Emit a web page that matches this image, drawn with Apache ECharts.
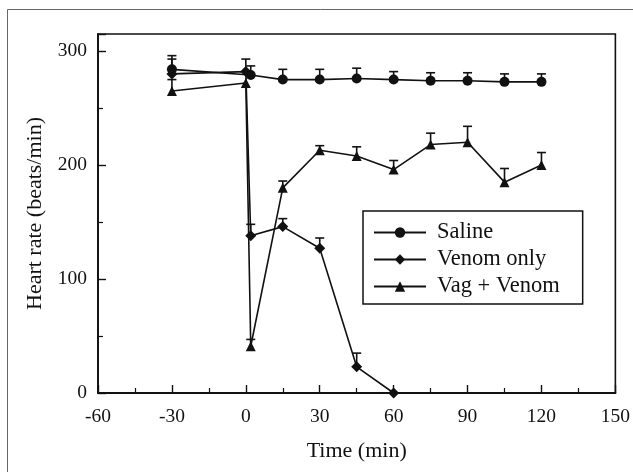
<!DOCTYPE html>
<html>
<head>
<meta charset="utf-8">
<script src="https://cdn.jsdelivr.net/npm/echarts@6/dist/echarts.min.js"></script>
<style>
  html, body { margin: 0; padding: 0; background: #fff; }
  #chart { width: 633px; height: 472px; }
</style>
</head>
<body>
<div id="chart"></div>
<script>
// x ticks (min) and y ticks (beats/min)
const xTicks = [-60, -30, 0, 30, 60, 90, 120, 150];
const yTicks = [0, 100, 200, 300];

// Saline
const salineX = [-30, 2, 15, 30, 45, 60, 75, 90, 105, 120];
const salineY = [284, 279, 275, 275, 276, 275, 274, 274, 273, 273];
const salineErr = [12, 8, 9, 9, 9, 7, 7, 7, 7, 7];

// Venom only
const venomX = [-30, 0, 2, 15, 30, 45, 60];
const venomY = [280, 282, 138, 146, 127, 23, 0];
const venomErr = [13, 11, 10, 7, 9, 12, 0];

// Vag + Venom
const vagX = [-30, 0, 2, 15, 30, 45, 60, 75, 90, 105, 120];
const vagY = [265, 272, 41, 180, 213, 208, 196, 218, 220, 185, 200];
const vagErr = [10, 0, 6, 6, 4, 8, 8, 10, 14, 12, 11];

const FONT = '"Liberation Serif", "Times New Roman", serif';
const INK = '#111';

function pts(xs, ys) {
  return xs.map((x, i) => [x, ys[i]]);
}
function errPts(xs, ys, es) {
  return xs.map((x, i) => [x, ys[i], es[i]]);
}

// upper half error bar with a cap
function errRender(params, api) {
  const x = api.value(0), y = api.value(1), e = api.value(2);
  if (!e) return null;
  const p0 = api.coord([x, y]);
  const p1 = api.coord([x, y + e]);
  const hw = 4.5;
  const st = { stroke: INK, lineWidth: 1.6 };
  return {
    type: 'group',
    children: [
      { type: 'line', shape: { x1: p0[0], y1: p0[1], x2: p1[0], y2: p1[1] }, style: st },
      { type: 'line', shape: { x1: p1[0] - hw, y1: p1[1], x2: p1[0] + hw, y2: p1[1] }, style: st }
    ]
  };
}

function lineSeries(name, data, symbol, size) {
  return {
    name: name,
    type: 'line',
    data: data,
    symbol: symbol,
    symbolSize: size,
    showAllSymbol: true,
    itemStyle: { color: INK },
    lineStyle: { color: INK, width: 1.6 },
    z: 3
  };
}

function errSeries(data) {
  return {
    type: 'custom',
    renderItem: errRender,
    data: data,
    encode: { x: 0, y: 1 },
    silent: true,
    z: 2
  };
}

const chart = echarts.init(document.getElementById('chart'));
chart.setOption({
  animation: false,
  backgroundColor: '#fff',
  textStyle: { fontFamily: FONT, color: INK },
  graphic: [{
    type: 'rect',
    shape: { x: 7.5, y: 9.5, width: 640, height: 480 },
    style: { fill: 'none', stroke: '#666', lineWidth: 1 },
    silent: true
  }],
  grid: {
    left: 98, right: 17, top: 34, bottom: 79,
    show: true, borderColor: INK, borderWidth: 1.6, backgroundColor: 'transparent'
  },
  legend: {
    data: ['Saline', 'Venom only', 'Vag + Venom'],
    orient: 'vertical',
    left: 363, top: 211,
    itemWidth: 52, itemHeight: 13,
    itemGap: 4,
    padding: [10, 23, 6, 10],
    borderColor: INK, borderWidth: 1.5,
    backgroundColor: '#fff',
    textStyle: { fontFamily: FONT, fontSize: 22.5, color: INK, padding: [0, 0, 0, 6] }
  },
  xAxis: {
    type: 'value',
    min: xTicks[0], max: xTicks[xTicks.length - 1], interval: 30,
    name: 'Time (min)', nameLocation: 'middle', nameGap: 47,
    nameTextStyle: { fontFamily: FONT, fontSize: 22, color: INK },
    axisLine: { onZero: false, lineStyle: { color: INK, width: 1.8 } },
    axisTick: { inside: true, length: 8, lineStyle: { color: INK, width: 1.4 } },
    minorTick: { show: true, splitNumber: 2, length: 5, lineStyle: { color: INK, width: 1.2 } },
    splitLine: { show: false },
    axisLabel: { fontFamily: FONT, fontSize: 19.5, color: INK, margin: 14 }
  },
  yAxis: {
    type: 'value',
    min: 0, max: 315, interval: 100,
    name: 'Heart rate (beats/min)', nameLocation: 'middle', nameGap: 52,
    nameTextStyle: { fontFamily: FONT, fontSize: 22, color: INK },
    axisLine: { onZero: false, lineStyle: { color: INK, width: 1.8 } },
    axisTick: { inside: true, length: 8, lineStyle: { color: INK, width: 1.4 } },
    minorTick: { show: true, splitNumber: 2, length: 5, lineStyle: { color: INK, width: 1.2 } },
    splitLine: { show: false },
    axisLabel: {
      fontFamily: FONT, fontSize: 19.5, color: INK, margin: 11,
      showMaxLabel: false,
      formatter: v => (yTicks.indexOf(v) >= 0 ? String(v) : '')
    }
  },
  series: [
    errSeries(errPts(salineX, salineY, salineErr)),
    errSeries(errPts(venomX, venomY, venomErr)),
    errSeries(errPts(vagX, vagY, vagErr)),
    lineSeries('Saline', pts(salineX, salineY), 'circle', 10),
    lineSeries('Venom only', pts(venomX, venomY), 'diamond', 11),
    lineSeries('Vag + Venom', pts(vagX, vagY), 'triangle', 10)
  ]
});
</script>
</body>
</html>
